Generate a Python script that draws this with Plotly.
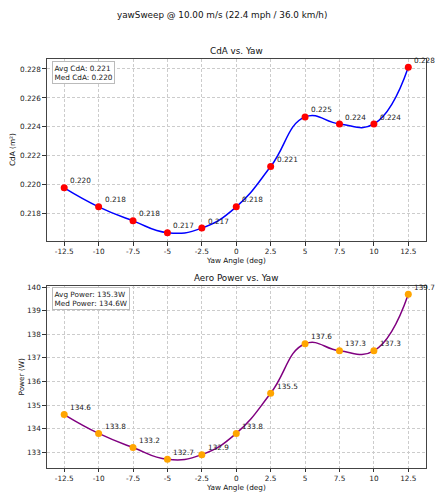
import numpy as np
import plotly.graph_objects as go

# ---- data ----
yaw_deg = [-12.5, -10, -7.5, -5, -2.5, 0, 2.5, 5, 7.5, 10, 12.5]
cda_m2 = [0.21979, 0.21848, 0.21751, 0.21669, 0.21701, 0.21848, 0.22126, 0.22469, 0.22420, 0.22420, 0.22812]
power_w = [134.6, 133.8, 133.2, 132.7, 132.9, 133.8, 135.5, 137.6, 137.3, 137.3, 139.7]
x_ticks = [-12.5, -10, -7.5, -5, -2.5, 0, 2.5, 5, 7.5, 10, 12.5]
x_tick_text = ["-12.5", "-10", "-7.5", "-5", "-2.5", "0", "2.5", "5", "7.5", "10", "12.5"]
cda_ticks = [0.218, 0.220, 0.222, 0.224, 0.226, 0.228]
power_ticks = [133, 134, 135, 136, 137, 138, 139, 140]

W, H = 444, 500
FONT = "DejaVu Sans"
TXT = "#222222"


def px(x):
    return x / W


def py(y):
    return 1 - y / H


fig = go.Figure()

fig.add_trace(go.Scatter(
    x=yaw_deg, y=cda_m2, mode="lines+markers",
    line=dict(color="#0000ff", width=1.5, shape="spline", smoothing=1.3),
    marker=dict(color="#ff0000", size=7),
    xaxis="x", yaxis="y", showlegend=False, cliponaxis=False,
))
fig.add_trace(go.Scatter(
    x=yaw_deg, y=power_w, mode="lines+markers",
    line=dict(color="#800080", width=1.5, shape="spline", smoothing=1.3),
    marker=dict(color="#ffa500", size=7),
    xaxis="x2", yaxis="y2", showlegend=False, cliponaxis=False,
))

axis_common = dict(
    showline=True, mirror=True, linecolor="#444444", linewidth=1.3,
    ticks="outside", ticklen=3.5, tickwidth=1, tickcolor="#333333",
    showgrid=True, gridcolor="#cccccc", gridwidth=0.8, griddash="3px,2px",
    zeroline=False, automargin=False,
    tickfont=dict(family=FONT, size=7.3, color=TXT),
)

x_dom = [px(47), px(425.5)]
fig.update_layout(
    width=W, height=H,
    margin=dict(l=0, r=0, t=0, b=0),
    paper_bgcolor="white", plot_bgcolor="white",
    font=dict(family=FONT, color=TXT),
    xaxis=dict(domain=x_dom, range=[-13.75, 13.75], tickvals=x_ticks, ticktext=x_tick_text,
               anchor="y", **axis_common),
    yaxis=dict(domain=[py(241), py(59)], range=[0.21612, 0.22869], tickvals=cda_ticks,
               tickformat=".3f", anchor="x", **axis_common),
    xaxis2=dict(domain=x_dom, range=[-13.75, 13.75], tickvals=x_ticks, ticktext=x_tick_text,
                anchor="y2", **axis_common),
    yaxis2=dict(domain=[py(467.6), py(286)], range=[132.35, 140.05], tickvals=power_ticks,
                anchor="x2", **axis_common),
)

ann = []
# point labels
for xv, yv in zip(yaw_deg, cda_m2):
    ann.append(dict(x=xv, y=yv, xref="x", yref="y", text=f"{yv:.3f}", showarrow=False,
                    xanchor="left", yanchor="middle", xshift=4, yshift=7,
                    font=dict(family=FONT, size=7.3, color=TXT)))
for xv, yv in zip(yaw_deg, power_w):
    ann.append(dict(x=xv, y=yv, xref="x2", yref="y2", text=f"{yv:.1f}", showarrow=False,
                    xanchor="left", yanchor="middle", xshift=4, yshift=7,
                    font=dict(family=FONT, size=7.3, color=TXT)))

# stat boxes
avg_cda, med_cda = float(np.mean(cda_m2)), float(np.median(cda_m2))
avg_p, med_p = float(np.mean(power_w)), float(np.median(power_w))
box = dict(showarrow=False, xref="paper", yref="paper", xanchor="left", yanchor="top",
           align="left", bgcolor="white", bordercolor="#bbbbbb", borderwidth=1, borderpad=1.5,
           font=dict(family=FONT, size=7.3, color=TXT))
ann.append(dict(x=px(51.5), y=py(60.5), text=f"Avg CdA: {avg_cda:.3f}<br>Med CdA: {med_cda:.3f}", **box))
ann.append(dict(x=px(52), y=py(287), text=f"Avg Power: {avg_p:.1f}W<br>Med Power: {med_p:.1f}W", **box))

# titles
def label(x, y, text, size, angle=0):
    return dict(x=px(x), y=py(y), xref="paper", yref="paper", text=text, showarrow=False,
                xanchor="center", yanchor="middle", textangle=angle,
                font=dict(family=FONT, size=size, color="#111111"))

ann.append(label(222, 15, "yawSweep @ 10.00 m/s (22.4 mph / 36.0 km/h)", 8.8))
ann.append(label(236, 51, "CdA vs. Yaw", 8.8))
ann.append(label(236, 277.7, "Aero Power vs. Yaw", 8.8))
ann.append(label(236, 260.7, "Yaw Angle (deg)", 7.3))
ann.append(label(236, 487.5, "Yaw Angle (deg)", 7.3))
ann.append(label(12, 150, "CdA (m²)", 7.3, -90))
ann.append(label(20.5, 377, "Power (W)", 7.3, -90))

fig.update_layout(annotations=ann)
fig.write_html(
    "out.html",
    config={"displayModeBar": False},
    post_script="document.body.style.margin='0px';document.body.style.overflow='hidden';",
)
